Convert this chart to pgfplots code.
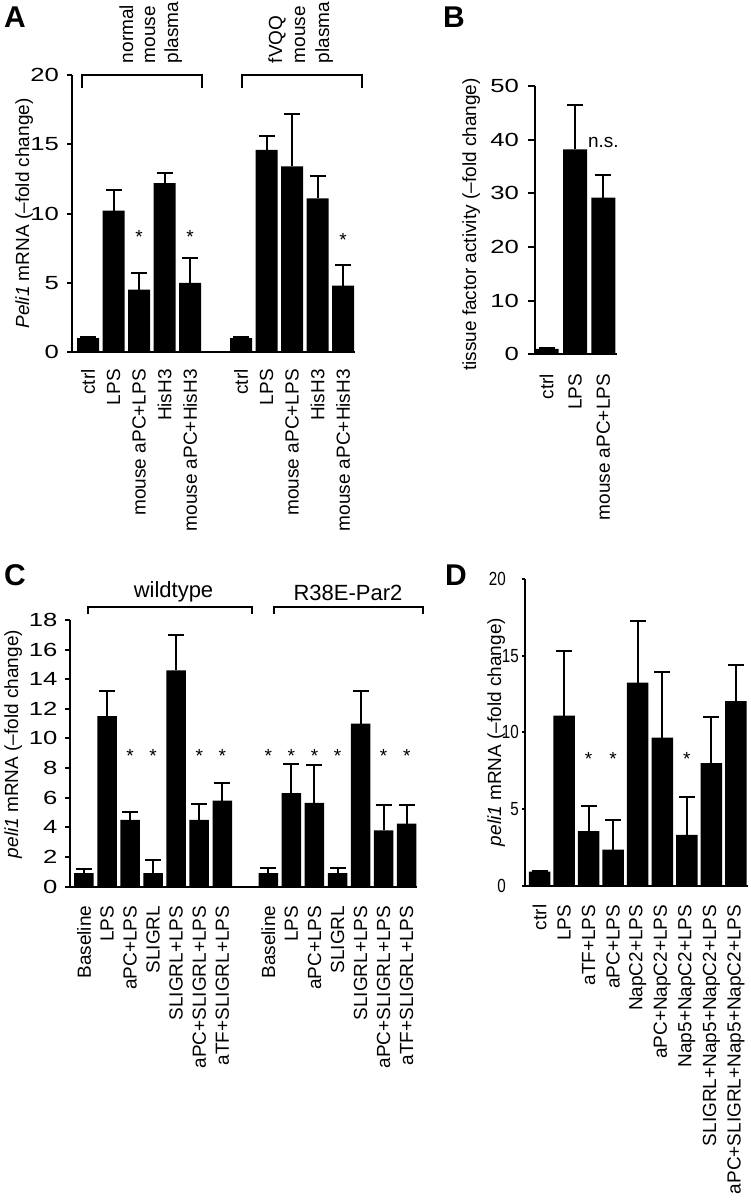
\documentclass[border=0pt]{standalone}
\usepackage{fontspec}
\setmainfont{Liberation Sans}
\usepackage{graphicx}
\usepackage{pgfplots}
\pgfplotsset{compat=1.18}
\newcommand\lf{\fontsize{19}{21}\selectfont}
\newcommand\gf{\fontsize{22}{24}\selectfont}
\newcommand\pf{\fontsize{30}{32}\selectfont\bfseries}

\pgfplotsset{
  panel/.style={
    scale only axis, anchor=south west,
    axis x line=bottom, axis y line=left,
    axis line style={-, line width=2pt},
    tick align=outside,
    major tick length=5pt,
    xtick style={draw=none},
    ytick style={draw=black, line width=2pt},
    x tick label style={rotate=90, anchor=east, font=\lf, inner sep=0pt},
    y tick label style={font=\lf, inner sep=0pt},
    /pgf/number format/assume math mode=true,
    clip=false,
  },
  wide/.style={yticklabel={\scalebox{1.35}[1]{\pgfmathprintnumber{\tick}}}},
  narrow/.style={yticklabel={\scalebox{0.8}[1]{\pgfmathprintnumber{\tick}}}},
  bars/.style={ybar, bar width=#1, fill=black, draw=none,
    error bars/.cd, y dir=plus, y explicit, error mark=|,
    error bar style={line width=2pt, black},
    error mark options={line width=2pt, black, mark size=8pt}},
  stars/.style={draw=none, nodes near coords={#1},
    every node near coord/.append style={anchor=base, inner sep=0pt, font=\lf}},
}

\pgfplotstableread{
x y e
0 1.0 0.05
1 10.2 1.5
2 4.5 1.2
3 12.2 0.7
4 5.0 1.8
6 1.0 0.05
7 14.6 1.0
8 13.4 3.8
9 11.1 1.6
10 4.8 1.5
}\dataA
\pgfplotstableread{
x y e
0 1.0 0.1
1 38.2 8.2
2 29.2 4.3
}\dataB
\pgfplotstableread{
x y e
0 0.9 0.3
1 11.5 1.7
2 4.5 0.55
3 0.9 0.9
4 14.6 2.4
5 4.5 1.1
6 5.8 1.2
8 0.9 0.35
9 6.3 2.0
10 5.65 2.55
11 0.9 0.35
12 11.0 2.2
13 3.8 1.7
14 4.25 1.25
}\dataC
\pgfplotstableread{
x y e
0 0.9 0.05
1 11.1 4.25
2 3.55 1.65
3 2.35 1.95
4 13.25 4.05
5 9.66 4.31
6 3.3 2.45
7 8.0 3.0
8 12.05 2.35
}\dataD

\begin{document}
\begin{tikzpicture}[x=1pt,y=1pt]
\path[use as bounding box] (0,0) rectangle (751,-1201);

% ---------------- A
\begin{axis}[panel, wide, at={(72pt,-352pt)}, width=283pt, height=277pt,
  xmin=-0.63, xmax=10.47, ymin=0, ymax=20, ytick={0,5,10,15,20},
  xticklabel shift=12pt, yticklabel shift=8pt,
  xtick={0,1,2,3,4,6,7,8,9,10},
  xticklabels={ctrl,LPS,mouse aPC+LPS,HisH3,mouse aPC+HisH3,ctrl,LPS,mouse aPC+LPS,HisH3,mouse aPC+HisH3}]
\addplot[bars=22pt] table[x=x,y=y,y error=e]{\dataA};
\addplot[stars=*] coordinates {(2,7.8) (4,7.8) (10,7.65)};
\end{axis}
\draw[line width=2pt] (82,-88) -- (82,-75) -- (202,-75) -- (202,-88);
\draw[line width=2pt] (242,-88) -- (242,-75) -- (361.7,-75) -- (361.7,-88);
\foreach \xx/\tt in {133/normal,155/mouse,178/plasma,282/fVQQ,305/mouse,329/plasma}
  \node[rotate=90, anchor=base west, inner sep=0pt, font=\lf] at (\xx,-63.3) {\tt};
\node[rotate=90, anchor=base, inner sep=0pt, font=\lf] at (29,-213.5) {\textit{Peli1} mRNA (–fold change)};
\node[anchor=base west, inner sep=0pt, font=\pf] at (4,-28) {A};

% ---------------- B
\begin{axis}[panel, wide, at={(535pt,-354.3pt)}, width=81.7pt, height=268.3pt,
  xmin=-0.413, xmax=2.473, ymin=0, ymax=50, ytick={0,10,20,30,40,50},
  xticklabel shift=12.5pt, yticklabel shift=9pt, major tick length=7pt,
  xtick={0,1,2}, xticklabels={ctrl,LPS,mouse aPC+LPS}]
\addplot[bars=24pt] table[x=x,y=y,y error=e]{\dataB};
\addplot[stars=n.s.] coordinates {(2,38.6)};
\end{axis}
\node[rotate=90, anchor=base, inner sep=0pt, font=\lf] at (476,-224.5) {tissue factor activity (–fold change)};
\node[anchor=base west, inner sep=0pt, font=\pf] at (443,-28) {B};

% ---------------- C
\begin{axis}[panel, wide, at={(70pt,-886.5pt)}, width=346.7pt, height=266.5pt,
  xmin=-0.607, xmax=14.434, ymin=0, ymax=18, ytick={0,2,...,18},
  xticklabel shift=14pt, yticklabel shift=7.5pt,
  xtick={0,1,2,3,4,5,6,8,9,10,11,12,13,14},
  xticklabels={Baseline,LPS,aPC+LPS,SLIGRL,SLIGRL+LPS,aPC+SLIGRL+LPS,aTF+SLIGRL+LPS,Baseline,LPS,aPC+LPS,SLIGRL,SLIGRL+LPS,aPC+SLIGRL+LPS,aTF+SLIGRL+LPS}]
\addplot[bars=19.5pt] table[x=x,y=y,y error=e]{\dataC};
\addplot[stars=*] coordinates {(2,8.37) (3,8.37) (5,8.37) (6,8.37) (8,8.37) (9,8.37) (10,8.37) (11,8.37) (13,8.37) (14,8.37)};
\end{axis}
\draw[line width=2pt] (88,-614) -- (88,-606.7) -- (252.3,-606.7) -- (252.3,-614);
\draw[line width=2pt] (274,-614) -- (274,-606.7) -- (422.7,-606.7) -- (422.7,-614);
\node[anchor=base, inner sep=0pt, font=\gf] at (173.5,-597) {wildtype};
\node[anchor=base, inner sep=0pt, font=\gf] at (348,-600) {R38E-Par2};
\node[rotate=90, anchor=base, inner sep=0pt, font=\lf] at (18,-744) {\textit{peli1} mRNA (–fold change)};
\node[anchor=base west, inner sep=0pt, font=\pf] at (4,-585) {C};

% ---------------- D
\begin{axis}[panel, narrow, at={(524.5pt,-885.5pt)}, width=223.5pt, height=306.2pt,
  xmin=-0.611, xmax=8.493, ymin=0, ymax=20, ytick={5,10,15},
  extra y ticks={0,20}, extra y tick style={yticklabel style={xshift=-13pt}},
  xticklabel shift=16pt, yticklabel shift=2.5pt, major tick length=3pt,
  xtick={0,...,8},
  xticklabels={ctrl,LPS,aTF+LPS,aPC+LPS,NapC2+LPS,aPC+NapC2+LPS,Nap5+NapC2+LPS,SLIGRL+Nap5+NapC2+LPS,aPC+SLIGRL+Nap5+NapC2+LPS}]
\addplot[bars=21.5pt] table[x=x,y=y,y error=e]{\dataD};
\addplot[stars=*] coordinates {(2,7.81) (3,7.81) (6,7.81)};
\end{axis}
\node[rotate=90, anchor=base, inner sep=0pt, font=\lf] at (501,-732) {\textit{peli1} mRNA (–fold change)};
\node[anchor=base west, inner sep=0pt, font=\pf] at (445,-585) {D};
\end{tikzpicture}
\end{document}
